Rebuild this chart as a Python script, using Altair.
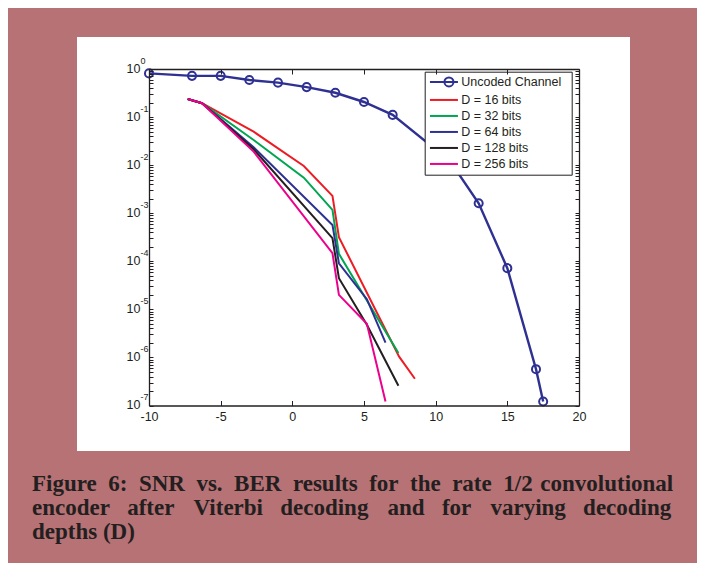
import json
import altair as alt
import pandas as pd

# ---------------- data ----------------
series_names = ["Uncoded Channel", "D = 16 bits", "D = 32 bits",
                "D = 64 bits", "D = 128 bits", "D = 256 bits"]
series_colors = ["#2E3192", "#ED1C24", "#00A651", "#2E3192", "#231F20", "#EC008C"]

uncoded_snr = [-10, -7, -5, -3, -1, 1, 3, 5, 7, 11, 13, 15, 17, 17.5]
uncoded_ber = [0.81, 0.72, 0.72, 0.59, 0.52, 0.42, 0.32, 0.206, 0.111,
               0.0122, 1.61e-3, 7.2e-5, 5.7e-7, 1.21e-7]

d16_snr = [-7.3, -6.3, -2.7, 0.8, 2.8, 3.25, 7.45, 8.55]
d16_ber = [0.238, 0.194, 0.0497, 9.6e-3, 2.29e-3, 3.17e-4, 1.04e-6, 3.6e-7]

d32_snr = [-7.3, -6.3, -2.7, 0.8, 2.8, 3.25, 7.4]
d32_ber = [0.238, 0.194, 0.0334, 5.5e-3, 1.17e-3, 1.43e-4, 1.23e-6]

d64_snr = [-7.3, -6.3, -2.7, 2.8, 3.25, 5.2, 6.5]
d64_ber = [0.238, 0.194, 0.0236, 5.7e-4, 9.1e-5, 1.63e-5, 2.04e-6]

d128_snr = [-7.3, -6.3, -2.7, 2.8, 3.25, 5.2, 7.4]
d128_ber = [0.238, 0.194, 0.0214, 3.02e-4, 4.45e-5, 4.76e-6, 2.57e-7]

d256_snr = [-7.3, -6.3, -2.7, 2.8, 3.25, 5.2, 6.5]
d256_ber = [0.238, 0.194, 0.0191, 1.47e-4, 2.0e-5, 5.0e-6, 1.21e-7]

x_ticks = [-10, -5, 0, 5, 10, 15, 20]
y_decades = [1e-7, 1e-6, 1e-5, 1e-4, 1e-3, 1e-2, 1e-1, 1]
y_minor_multipliers = [2, 3, 4, 5, 6, 7, 8, 9]
y_exponent_text = ["0", "-1", "-2", "-3", "-4", "-5", "-6", "-7"]

EN, NB, THREE, HAIR = "\u2002", "\u00a0", "\u2004", "\u200a"
caption_words = [
    ["Figure", "6:", "SNR", "vs.", "BER", "results", "for", "the", "rate", "1/2", "convolutional"],
    ["encoder", "after", "Viterbi", "decoding", "and", "for", "varying", "decoding"],
    ["depths", "(D)"],
]


def spaced(words, gaps):
    out = words[0]
    for g, w in zip(gaps, words[1:]):
        out += g + w
    return out


# justified look: wider (non-collapsing) spaces on the first two lines
W1 = EN + NB
W2 = EN + NB + HAIR
caption_lines = [
    spaced(caption_words[0], [EN] * 9 + [THREE]),
    spaced(caption_words[1], [W1, W2, W1, W2, W1, W2, W1]),
    " ".join(caption_words[2]),
]

# ---------------- tables ----------------
unc_df = pd.DataFrame({"snr": uncoded_snr, "ber": uncoded_ber,
                       "series": series_names[0]})


def coded_table(parts):
    rows = []
    for name, xs, ys in parts:
        for a, b in zip(xs, ys):
            rows.append({"snr": a, "ber": b, "series": name})
    return pd.DataFrame(rows)


coded_a = coded_table([(series_names[1], d16_snr, d16_ber),
                       (series_names[2], d32_snr, d32_ber),
                       (series_names[3], d64_snr, d64_ber)])
coded_b = coded_table([(series_names[4], d128_snr, d128_ber),
                       (series_names[5], d256_snr, d256_ber)])
legend_df = pd.DataFrame({"series": series_names})
panel_df = pd.DataFrame({"panel": [1]})

y_ticks = [m * d for d in y_decades[:-1] for m in [1] + y_minor_multipliers] + [1]

# ---------------- styling ----------------
W, H = 553, 414                 # white panel
PX0, PX1 = 72, 502              # plot box in panel coords
PY0, PY1 = 32, 368.5
INK = "#231F20"
SANS = "Liberation Sans"

xscale = alt.Scale(domain=[-10, 20], range=[PX0, PX1], nice=False, zero=False)
yscale = alt.Scale(type="log", domain=[1e-7, 1], range=[PY1, PY0], nice=False)

exp = "round(log(datum.value)/LN10)"
is_decade = f"abs(log(datum.value)/LN10 - {exp}) < 0.01"
y_base_expr = f"{is_decade} ? '10' : ''"
y_exp_expr = (f"{is_decade} ? "
              f"{json.dumps(y_exponent_text)}[-{exp}] : ''")

common = dict(grid=False, title=None, domainColor=INK, domainWidth=1.3,
              tickColor=INK, tickWidth=1, zindex=1, labelFlush=False)

ax_x_lab = alt.Axis(orient="bottom", offset=PY1 - H, values=x_ticks, ticks=False,
                    tickSize=0, domain=True, labels=True, labelExpr="'' + datum.value",
                    labelFont=SANS, labelFontSize=12.5, labelColor=INK, labelPadding=5,
                    labelOverlap=False, **common)
ax_x_in = alt.Axis(orient="top", offset=-PY1, values=x_ticks, ticks=True, tickSize=5,
                   domain=False, labels=False, **common)
ax_x_top = alt.Axis(orient="bottom", offset=PY0 - H, values=x_ticks, ticks=True,
                    tickSize=5, domain=True, labels=False, **common)

ax_y_base = alt.Axis(orient="left", offset=-PX0, values=y_ticks, ticks=False, tickSize=0,
                     domain=True, labels=True, labelExpr=y_base_expr, labelFont=SANS,
                     labelFontSize=12.5, labelColor=INK, labelPadding=9,
                     labelOffset=-1, labelOverlap=False, **common)
ax_y_exp = alt.Axis(orient="left", offset=-PX0, values=y_ticks, ticks=False, tickSize=0,
                    domain=False, labels=True, labelExpr=y_exp_expr, labelFont=SANS,
                    labelFontSize=9, labelColor=INK, labelPadding=9, labelAlign="left",
                    labelOffset=-9, labelOverlap=False, **common)
ax_y_in = alt.Axis(orient="right", offset=-(W - PX0), values=y_ticks, ticks=True,
                   tickSize=4, domain=False, labels=False, **common)
ax_y_right = alt.Axis(orient="left", offset=-PX1, values=y_ticks, ticks=True,
                      tickSize=4, domain=True, labels=False, **common)

cscale = alt.Scale(domain=series_names, range=series_colors)
line_path = "M-1,0H4.6"
marker_path = "M-1,0H4.6M3.7,0A0.9,0.9,0,1,1,1.9,0A0.9,0.9,0,1,1,3.7,0"
sscale = alt.Scale(domain=series_names, range=[marker_path] + [line_path] * 5)

legend_def = alt.Legend(title="\u00a0", titleOrient="right", titlePadding=6,
                        titleFontSize=10, titleColor="white",
                        orient="none", legendX=347.7, legendY=34.7,
                        padding=4, fillColor="white", strokeColor=INK,
                        labelFont=SANS, labelFontSize=12.5, labelColor=INK,
                        labelOffset=20, symbolSize=100, symbolStrokeWidth=2,
                        symbolOpacity=1, rowPadding=3)

panel = alt.Chart(panel_df).mark_rect(color="white").encode(
    x=alt.value(0), x2=alt.value(W), y=alt.value(0), y2=alt.value(H)
)

legend_layer = alt.Chart(legend_df).mark_point(filled=False, opacity=0).encode(
    color=alt.Color("series:N", scale=cscale, legend=legend_def),
    shape=alt.Shape("series:N", scale=sscale, legend=legend_def),
)

line_unc = alt.Chart(unc_df).mark_line(color=series_colors[0], strokeWidth=2.4).encode(
    x=alt.X("snr:Q", scale=xscale, axis=ax_x_lab),
    y=alt.Y("ber:Q", scale=yscale, axis=ax_y_base),
)

lines_a = alt.Chart(coded_a).mark_line(strokeWidth=2).encode(
    x=alt.X("snr:Q", scale=xscale, axis=ax_x_in),
    y=alt.Y("ber:Q", scale=yscale, axis=ax_y_exp),
    color=alt.Color("series:N", scale=cscale, legend=legend_def),
)

lines_b = alt.Chart(coded_b).mark_line(strokeWidth=2).encode(
    x=alt.X("snr:Q", scale=xscale, axis=ax_x_top),
    y=alt.Y("ber:Q", scale=yscale, axis=ax_y_in),
    color=alt.Color("series:N", scale=cscale, legend=legend_def),
)

pts = alt.Chart(unc_df).mark_point(shape="circle", filled=False, size=65,
                                   strokeWidth=2, color=series_colors[0],
                                   opacity=1).encode(
    x=alt.X("snr:Q", scale=xscale, axis=None),
    y=alt.Y("ber:Q", scale=yscale, axis=ax_y_right),
)

chart = alt.layer(panel, legend_layer, line_unc, lines_a, lines_b, pts).resolve_axis(
    x="independent", y="independent"
).properties(
    width=W, height=H,
    autosize=alt.AutoSizeParams(type="none"),
    padding={"left": 69, "top": 29, "right": 67, "bottom": 112},
    title=alt.TitleParams(text=caption_lines, orient="bottom", anchor="start",
                          frame="group", offset=22, dx=-45,
                          font="Liberation Serif", fontSize=23, fontWeight="bold",
                          color=INK, lineHeight=24, baseline="top"),
).configure(background="#B77275").configure_view(fill="white", stroke="transparent")

chart.save("out.html", embed_options={"renderer": "svg", "actions": False})
